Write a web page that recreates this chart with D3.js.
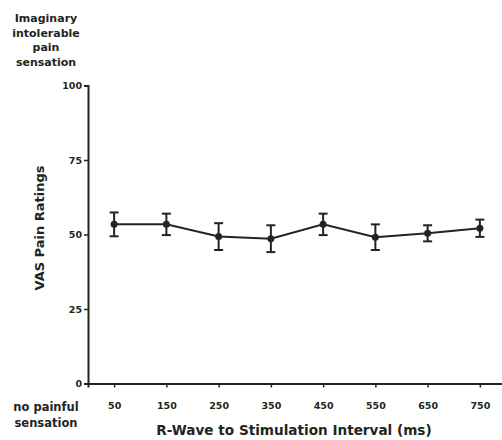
<!DOCTYPE html>
<html>
<head>
<meta charset="utf-8">
<title>VAS Pain Ratings</title>
<style>
  body { margin: 0; background: #fff; }
  text { font-family: 'DejaVu Sans', sans-serif; font-weight: bold; fill: #1e261e; }
</style>
<script src="https://d3js.org/d3.v7.min.js"></script>
</head>
<body>
<svg id="chart" width="502" height="440"></svg>
<script>
var intervals = [50, 150, 250, 350, 450, 550, 650, 750];
var ratings = [53.4, 53.4, 49.3, 48.6, 53.4, 49.1, 50.4, 52.1];
var errors = [4.0, 3.6, 4.5, 4.5, 3.6, 4.3, 2.7, 2.9];
var yTicks = [0, 25, 50, 75, 100];
var topLabel = ["Imaginary", "intolerable", "pain", "sensation"];
var bottomLabel = ["no painful", "sensation"];

var ink = "#1e261e";
var svg = d3.select("#chart");

var x = d3.scaleLinear().domain([0, 800]).range([88, 506]);
var y = d3.scaleLinear().domain([0, 100]).range([383.5, 85.5]);

// y axis
var yAxis = svg.append("g")
  .attr("transform", "translate(88,0)")
  .call(d3.axisLeft(y).tickValues(yTicks).tickSize(4).tickPadding(2));
yAxis.select(".domain").attr("stroke", ink).attr("stroke-width", 2);
yAxis.selectAll(".tick line").attr("stroke", ink).attr("stroke-width", 1.5);
yAxis.selectAll(".tick text").style("font-size", "9.5px").attr("fill", ink);

// x axis
var xAxis = svg.append("g")
  .attr("transform", "translate(0,383.5)")
  .call(d3.axisBottom(x).tickValues(intervals).tickSize(4).tickPadding(15));
xAxis.select(".domain").attr("stroke", ink).attr("stroke-width", 2);
xAxis.selectAll(".tick line").attr("stroke", ink).attr("stroke-width", 1.5);
xAxis.selectAll(".tick text").style("font-size", "9.5px").attr("fill", ink);

// line
var line = d3.line()
  .x(function(d, i) { return x(intervals[i]); })
  .y(function(d) { return y(d); });
svg.append("path")
  .datum(ratings)
  .attr("d", line)
  .attr("fill", "none")
  .attr("stroke", ink)
  .attr("stroke-width", 2);

// error bars
var eb = svg.append("g").selectAll("g").data(ratings).join("g");
eb.append("line")
  .attr("x1", function(d, i) { return x(intervals[i]); })
  .attr("x2", function(d, i) { return x(intervals[i]); })
  .attr("y1", function(d, i) { return y(d + errors[i]); })
  .attr("y2", function(d, i) { return y(d - errors[i]); })
  .attr("stroke", ink).attr("stroke-width", 2);
[1, -1].forEach(function(s) {
  eb.append("line")
    .attr("x1", function(d, i) { return x(intervals[i]) - 4.5; })
    .attr("x2", function(d, i) { return x(intervals[i]) + 4.5; })
    .attr("y1", function(d, i) { return y(d + s * errors[i]); })
    .attr("y2", function(d, i) { return y(d + s * errors[i]); })
    .attr("stroke", ink).attr("stroke-width", 2);
});
eb.append("circle")
  .attr("cx", function(d, i) { return x(intervals[i]); })
  .attr("cy", function(d) { return y(d); })
  .attr("r", 3.5)
  .attr("fill", ink);

// labels
svg.append("g").selectAll("text").data(topLabel).join("text")
  .attr("x", 46).attr("y", function(d, i) { return 22 + i * 14.6; })
  .attr("text-anchor", "middle").style("font-size", "11px")
  .text(function(d) { return d; });

svg.append("g").selectAll("text").data(bottomLabel).join("text")
  .attr("x", 46).attr("y", function(d, i) { return 411 + i * 16; })
  .attr("text-anchor", "middle").style("font-size", "11.5px")
  .text(function(d) { return d; });

svg.append("text")
  .attr("transform", "translate(44,228) rotate(-90)")
  .attr("text-anchor", "middle").style("font-size", "13px")
  .text("VAS Pain Ratings");

svg.append("text")
  .attr("x", 294).attr("y", 435)
  .attr("text-anchor", "middle").style("font-size", "13.6px")
  .text("R-Wave to Stimulation Interval (ms)");
</script>
</body>
</html>
